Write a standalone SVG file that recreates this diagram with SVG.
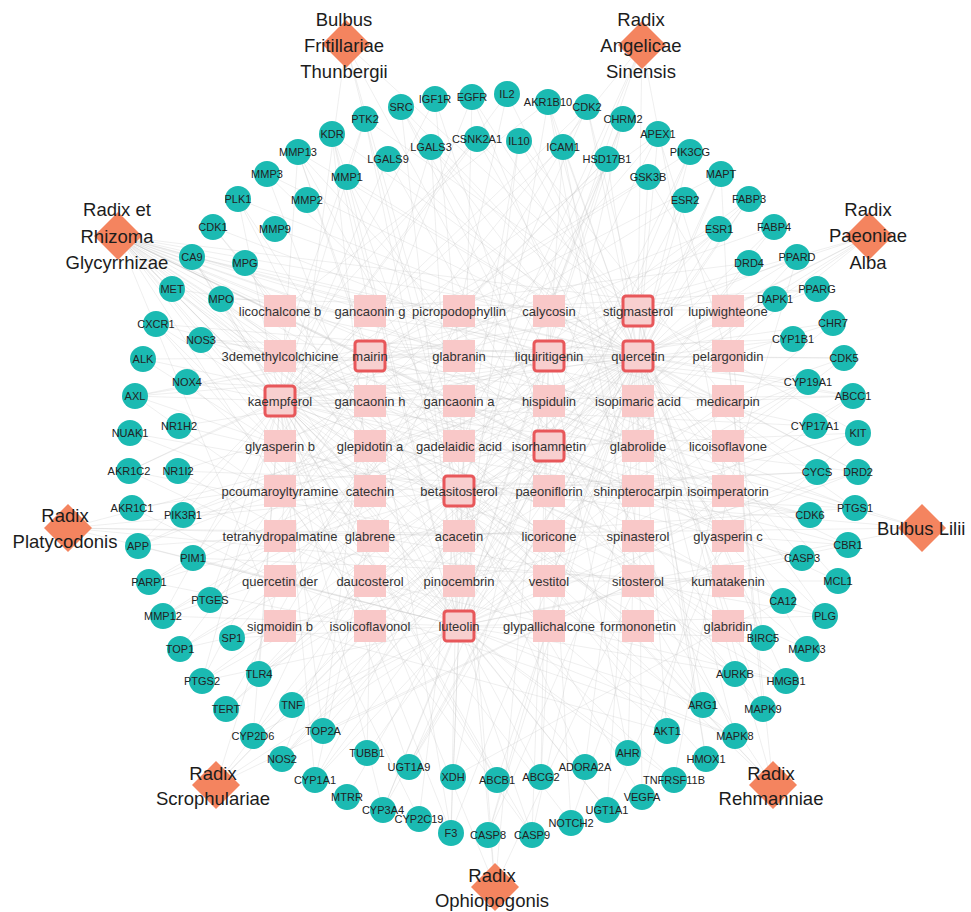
<svg xmlns="http://www.w3.org/2000/svg" width="971" height="912" viewBox="0 0 971 912">
<style>
.e{fill:none;stroke:#bdbdbd;stroke-width:0.55;stroke-opacity:0.45}
.t circle{fill:#1bbab2}
.t text{font-family:"Liberation Sans",Arial,sans-serif;font-size:11px;fill:#222;text-anchor:middle}
.c rect{fill:#f9c8c8}
.c.hl rect{fill:#f8cfcf;stroke:#e8575a;stroke-width:3}
.c text{font-family:"Liberation Sans",Arial,sans-serif;font-size:13px;fill:#333;text-anchor:middle}
.h polygon{fill:#f4845f}
.h text{font-family:"Liberation Sans",Arial,sans-serif;font-size:18.5px;fill:#1c1c1c;text-anchor:middle}
</style>
<rect width="971" height="912" fill="#ffffff"/>
<g id="connectors">
<path class="e" d="M118 236 280 311M118 236 370 311M118 236 549 311M118 236 728 311M118 236 459 356M118 236 549 356M118 236 638 356M118 236 280 401M118 236 370 401M118 236 459 401M118 236 728 401M118 236 280 446M118 236 370 446M118 236 549 446M118 236 638 446M118 236 728 446M118 236 370 491M118 236 638 491M118 236 728 491M118 236 370 536M118 236 549 536M118 236 728 536M118 236 549 581M118 236 728 581M118 236 280 626M118 236 370 626M118 236 549 626M118 236 638 626M118 236 728 626M118 236 459 626M118 236 459 581"/>
<path class="e" d="M346 44 638 311M346 44 459 491M346 44 638 581M346 44 280 536M346 44 459 446M642 45 638 311M642 45 459 491M642 45 549 311M642 45 459 446M642 45 728 491M642 45 280 491M869 236 549 491M869 236 280 401M869 236 459 491M869 236 370 491M869 236 638 356M869 236 638 311M869 236 370 581M68 528 459 626M68 528 638 536M68 528 459 536M68 528 459 491M68 528 638 581M68 528 549 401M922 528 280 356M922 528 459 491M922 528 280 536M922 528 638 581M922 528 370 356M216 785 638 581M216 785 459 536M216 785 459 626M216 785 280 581M216 785 370 581M216 785 638 356M495 887 370 581M495 887 638 581M495 887 459 491M495 887 549 311M495 887 459 401M773 785 638 311M773 785 459 491M773 785 638 581M773 785 459 446M773 785 370 356M773 785 728 356"/>
<path class="e" d="M638 356 332 134M638 356 401 107M638 356 472 97M638 356 507 94M638 356 548 102M638 356 587 107M638 356 658 134M638 356 690 152M638 356 721 174M638 356 749 199M638 356 797 257M638 356 817 289M638 356 844 358M638 356 853 396M638 356 858 472M638 356 855 508M638 356 838 581M638 356 825 616M638 356 807 649M638 356 786 681M638 356 763 709M638 356 735 736M638 356 706 759M638 356 642 797M638 356 607 810M638 356 532 835M638 356 488 835M638 356 451 833M638 356 383 810M638 356 315 780M638 356 282 759M638 356 253 736M638 356 226 709M638 356 202 681M638 356 180 649M638 356 163 616M638 356 149 582M638 356 138 546M638 356 135 396M638 356 143 359M638 356 172 289M638 356 192 257M638 356 238 199M638 356 267 174M638 356 298 152M638 356 347 177M638 356 431 147M638 356 519 141M638 356 563 147M638 356 607 159M638 356 648 177M638 356 685 200M638 356 719 229M638 356 775 299M638 356 808 382M638 356 817 472M638 356 802 558M638 356 763 638M638 356 703 705M638 356 667 731M638 356 585 767M638 356 497 780M638 356 409 767M638 356 323 731M638 356 259 674M638 356 210 600M638 356 183 515M638 356 179 426M638 356 201 340M638 356 275 229"/>
<path class="e" d="M280 401 365 119M280 401 435 99M280 401 507 94M280 401 587 107M280 401 658 134M280 401 721 174M280 401 774 227M280 401 833 323M280 401 853 396M280 401 858 472M280 401 848 545M280 401 825 616M280 401 786 681M280 401 735 736M280 401 674 780M280 401 607 810M280 401 532 835M280 401 451 833M280 401 383 810M280 401 315 780M280 401 253 736M280 401 202 681M280 401 163 616M280 401 138 546M280 401 129 471M280 401 135 396M280 401 156 324M280 401 192 257M280 401 238 199M280 401 298 152M280 401 388 159M280 401 477 139M280 401 563 147M280 401 648 177M280 401 719 229M280 401 793 339M280 401 815 426M280 401 810 515M280 401 783 601M280 401 735 674M280 401 667 731M280 401 585 767M280 401 497 780M280 401 409 767M280 401 323 731M280 401 259 674M280 401 210 600M280 401 183 515M280 401 187 382M280 401 221 299"/>
<path class="e" d="M459 626 332 134M459 626 401 107M459 626 472 97M459 626 548 102M459 626 623 119M459 626 690 152M459 626 749 199M459 626 797 257M459 626 833 323M459 626 853 396M459 626 858 472M459 626 848 545M459 626 825 616M459 626 786 681M459 626 735 736M459 626 674 780M459 626 607 810M459 626 532 835M459 626 451 833M459 626 383 810M459 626 315 780M459 626 253 736M459 626 202 681M459 626 163 616M459 626 138 546M459 626 129 471M459 626 135 396M459 626 156 324M459 626 192 257M459 626 238 199M459 626 298 152M459 626 347 177M459 626 431 147M459 626 519 141M459 626 607 159M459 626 685 200M459 626 749 263M459 626 808 382M459 626 817 472M459 626 802 558M459 626 763 638M459 626 703 705M459 626 628 753M459 626 541 777M459 626 453 777M459 626 367 753M459 626 292 705M459 626 232 638M459 626 193 558M459 626 178 471M459 626 187 382M459 626 245 263"/>
<path class="e" d="M638 311 587 107M638 311 365 119M638 311 135 396M638 311 163 616M638 311 282 759M638 311 488 835M638 311 706 759M638 311 858 433M638 311 817 289M638 311 477 139M638 311 183 515M638 311 735 674M459 491 332 134M459 491 519 141M459 491 749 199M459 491 844 358M459 491 855 508M459 491 807 649M459 491 642 797M459 491 419 819M459 491 226 709M459 491 149 582M459 491 130 433M459 491 172 289M459 491 607 159M459 491 817 472M459 491 585 767M459 491 292 705M459 491 179 426M549 446 435 99M549 446 623 119M549 446 774 227M549 446 858 433M549 446 838 581M549 446 763 709M549 446 571 823M549 446 347 797M549 446 180 649M549 446 132 508M549 446 143 359M549 446 267 174M549 446 388 159M549 446 775 299M549 446 810 515M549 446 703 705M549 446 409 767M549 446 201 340M549 356 401 107M549 356 658 134M549 356 797 257M549 356 853 396M549 356 825 616M549 356 735 736M549 356 532 835M549 356 315 780M549 356 138 546M549 356 156 324M549 356 213 227M549 356 563 147M549 356 719 229M549 356 808 382M549 356 783 601M549 356 628 753M549 356 453 777M549 356 259 674M549 356 178 471M370 356 298 152M370 356 472 97M370 356 690 152M370 356 844 358M370 356 786 681M370 356 451 833M370 356 202 681M370 356 129 471M370 356 431 147M370 356 793 339M370 356 667 731M370 356 323 731M370 356 210 600"/>
<path class="e" d="M280 311 213 227M280 311 548 102M280 311 815 426M370 311 332 134M370 311 749 263M370 311 193 558M459 311 507 94M459 311 817 289M459 311 282 759M459 311 607 159M549 311 623 119M549 311 858 472M549 311 135 396M549 311 541 777M728 311 721 174M728 311 648 177M728 311 221 299M728 311 763 638M280 356 156 324M280 356 365 119M280 356 477 139M459 356 435 99M459 356 855 508M459 356 232 638M728 356 833 323M728 356 658 134M728 356 763 709M370 401 238 199M370 401 802 558M370 401 180 649M459 401 587 107M459 401 149 582M459 401 735 674M549 401 401 107M549 401 848 545M549 401 383 810M549 401 187 382M638 401 774 227M638 401 201 340M638 401 628 753M728 401 853 396M728 401 519 141M728 401 292 705M280 446 143 359M280 446 685 200M280 446 571 823M370 446 267 174M370 446 810 515M370 446 226 709M459 446 298 152M459 446 719 229M459 446 451 833M638 446 548 102M638 446 808 382M638 446 259 674M728 446 844 358M728 446 388 159M728 446 642 797M280 491 130 433M280 491 607 159M280 491 532 835M370 491 332 134M370 491 817 472M370 491 253 736M370 491 183 515M549 491 690 152M549 491 802 558M549 491 163 616M549 491 347 177M638 491 858 433M638 491 472 97M638 491 488 835M728 491 797 257M728 491 178 471M728 491 674 780M280 536 138 546M280 536 749 199M280 536 419 819M370 536 192 257M370 536 825 616M370 536 315 780M459 536 623 119M459 536 855 508M459 536 202 681M459 536 129 471M549 536 775 299M549 536 409 767M549 536 135 396M638 536 858 472M638 536 232 638M638 536 563 147M728 536 848 545M728 536 431 147M728 536 607 810M280 581 132 508M280 581 735 736M280 581 658 134M370 581 156 324M370 581 786 681M370 581 497 780M459 581 365 119M459 581 838 581M459 581 282 759M549 581 706 759M549 581 172 289M549 581 721 174M638 581 763 709M638 581 323 731M638 581 548 102M728 581 807 649M728 581 193 558M728 581 477 139M280 626 180 649M280 626 587 107M280 626 667 731M370 626 149 582M370 626 808 382M370 626 367 753M549 626 541 777M549 626 213 227M549 626 853 396M638 626 703 705M638 626 221 299M638 626 571 823M638 626 858 433M728 626 783 601M728 626 298 152M728 626 453 777"/>
</g>
<g id="compounds">
<g id="c-licochalcone-b" class="c"><rect x="264" y="295" width="32" height="32"/><text x="280" y="315.5">licochalcone b</text></g>
<g id="c-gancaonin-g" class="c"><rect x="354" y="295" width="32" height="32"/><text x="370" y="315.5">gancaonin g</text></g>
<g id="c-picropodophyllin" class="c"><rect x="443" y="295" width="32" height="32"/><text x="459" y="315.5">picropodophyllin</text></g>
<g id="c-calycosin" class="c"><rect x="533" y="295" width="32" height="32"/><text x="549" y="315.5">calycosin</text></g>
<g id="c-stigmasterol" class="c hl"><rect x="623" y="296" width="30" height="30" rx="3"/><text x="638" y="315.5">stigmasterol</text></g>
<g id="c-lupiwighteone" class="c"><rect x="712" y="295" width="32" height="32"/><text x="728" y="315.5">lupiwighteone</text></g>
<g id="c-3demethylcolchicine" class="c"><rect x="264" y="340" width="32" height="32"/><text x="280" y="360.5">3demethylcolchicine</text></g>
<g id="c-mairin" class="c hl"><rect x="355" y="341" width="30" height="30" rx="3"/><text x="370" y="360.5">mairin</text></g>
<g id="c-glabranin" class="c"><rect x="443" y="340" width="32" height="32"/><text x="459" y="360.5">glabranin</text></g>
<g id="c-liquiritigenin" class="c hl"><rect x="534" y="341" width="30" height="30" rx="3"/><text x="549" y="360.5">liquiritigenin</text></g>
<g id="c-quercetin" class="c hl"><rect x="623" y="341" width="30" height="30" rx="3"/><text x="638" y="360.5">quercetin</text></g>
<g id="c-pelargonidin" class="c"><rect x="712" y="340" width="32" height="32"/><text x="728" y="360.5">pelargonidin</text></g>
<g id="c-kaempferol" class="c hl"><rect x="265" y="386" width="30" height="30" rx="3"/><text x="280" y="405.5">kaempferol</text></g>
<g id="c-gancaonin-h" class="c"><rect x="354" y="385" width="32" height="32"/><text x="370" y="405.5">gancaonin h</text></g>
<g id="c-gancaonin-a" class="c"><rect x="443" y="385" width="32" height="32"/><text x="459" y="405.5">gancaonin a</text></g>
<g id="c-hispidulin" class="c"><rect x="533" y="385" width="32" height="32"/><text x="549" y="405.5">hispidulin</text></g>
<g id="c-isopimaric-acid" class="c"><rect x="622" y="385" width="32" height="32"/><text x="638" y="405.5">isopimaric acid</text></g>
<g id="c-medicarpin" class="c"><rect x="712" y="385" width="32" height="32"/><text x="728" y="405.5">medicarpin</text></g>
<g id="c-glyasperin-b" class="c"><rect x="264" y="430" width="32" height="32"/><text x="280" y="450.5">glyasperin b</text></g>
<g id="c-glepidotin-a" class="c"><rect x="354" y="430" width="32" height="32"/><text x="370" y="450.5">glepidotin a</text></g>
<g id="c-gadelaidic-acid" class="c"><rect x="443" y="430" width="32" height="32"/><text x="459" y="450.5">gadelaidic acid</text></g>
<g id="c-isorhamnetin" class="c hl"><rect x="534" y="431" width="30" height="30" rx="3"/><text x="549" y="450.5">isorhamnetin</text></g>
<g id="c-glabrolide" class="c"><rect x="622" y="430" width="32" height="32"/><text x="638" y="450.5">glabrolide</text></g>
<g id="c-licoisoflavone" class="c"><rect x="712" y="430" width="32" height="32"/><text x="728" y="450.5">licoisoflavone</text></g>
<g id="c-pcoumaroyltyramine" class="c"><rect x="264" y="475" width="32" height="32"/><text x="280" y="495.5">pcoumaroyltyramine</text></g>
<g id="c-catechin" class="c"><rect x="354" y="475" width="32" height="32"/><text x="370" y="495.5">catechin</text></g>
<g id="c-betasitosterol" class="c hl"><rect x="444" y="476" width="30" height="30" rx="3"/><text x="459" y="495.5">betasitosterol</text></g>
<g id="c-paeoniflorin" class="c"><rect x="533" y="475" width="32" height="32"/><text x="549" y="495.5">paeoniflorin</text></g>
<g id="c-shinpterocarpin" class="c"><rect x="622" y="475" width="32" height="32"/><text x="638" y="495.5">shinpterocarpin</text></g>
<g id="c-isoimperatorin" class="c"><rect x="712" y="475" width="32" height="32"/><text x="728" y="495.5">isoimperatorin</text></g>
<g id="c-tetrahydropalmatine" class="c"><rect x="264" y="520" width="32" height="32"/><text x="280" y="540.5">tetrahydropalmatine</text></g>
<g id="c-glabrene" class="c"><rect x="357" y="520" width="32" height="32"/><text x="370" y="540.5">glabrene</text></g>
<g id="c-acacetin" class="c"><rect x="443" y="520" width="32" height="32"/><text x="459" y="540.5">acacetin</text></g>
<g id="c-licoricone" class="c"><rect x="533" y="520" width="32" height="32"/><text x="549" y="540.5">licoricone</text></g>
<g id="c-spinasterol" class="c"><rect x="622" y="520" width="32" height="32"/><text x="638" y="540.5">spinasterol</text></g>
<g id="c-glyasperin-c" class="c"><rect x="712" y="520" width="32" height="32"/><text x="728" y="540.5">glyasperin c</text></g>
<g id="c-quercetin-der" class="c"><rect x="264" y="565" width="32" height="32"/><text x="280" y="585.5">quercetin der</text></g>
<g id="c-daucosterol" class="c"><rect x="354" y="565" width="32" height="32"/><text x="370" y="585.5">daucosterol</text></g>
<g id="c-pinocembrin" class="c"><rect x="443" y="565" width="32" height="32"/><text x="459" y="585.5">pinocembrin</text></g>
<g id="c-vestitol" class="c"><rect x="533" y="565" width="32" height="32"/><text x="549" y="585.5">vestitol</text></g>
<g id="c-sitosterol" class="c"><rect x="622" y="565" width="32" height="32"/><text x="638" y="585.5">sitosterol</text></g>
<g id="c-kumatakenin" class="c"><rect x="712" y="565" width="32" height="32"/><text x="728" y="585.5">kumatakenin</text></g>
<g id="c-sigmoidin-b" class="c"><rect x="264" y="610" width="32" height="32"/><text x="280" y="630.5">sigmoidin b</text></g>
<g id="c-isolicoflavonol" class="c"><rect x="354" y="610" width="32" height="32"/><text x="370" y="630.5">isolicoflavonol</text></g>
<g id="c-luteolin" class="c hl"><rect x="444" y="611" width="30" height="30" rx="3"/><text x="459" y="630.5">luteolin</text></g>
<g id="c-glypallichalcone" class="c"><rect x="533" y="610" width="32" height="32"/><text x="549" y="630.5">glypallichalcone</text></g>
<g id="c-formononetin" class="c"><rect x="622" y="610" width="32" height="32"/><text x="638" y="630.5">formononetin</text></g>
<g id="c-glabridin" class="c"><rect x="712" y="610" width="32" height="32"/><text x="728" y="630.5">glabridin</text></g>
</g>
<g id="targets">
<g id="t-KDR" class="t"><circle cx="332" cy="134" r="13"/><text x="332" y="138">KDR</text></g>
<g id="t-PTK2" class="t"><circle cx="365" cy="119" r="13"/><text x="365" y="123">PTK2</text></g>
<g id="t-SRC" class="t"><circle cx="401" cy="107" r="13"/><text x="401" y="111">SRC</text></g>
<g id="t-IGF1R" class="t"><circle cx="435" cy="99" r="13"/><text x="435" y="103">IGF1R</text></g>
<g id="t-EGFR" class="t"><circle cx="472" cy="97" r="13"/><text x="472" y="101">EGFR</text></g>
<g id="t-IL2" class="t"><circle cx="507" cy="94" r="13"/><text x="507" y="98">IL2</text></g>
<g id="t-AKR1B10" class="t"><circle cx="548" cy="102" r="13"/><text x="548" y="106">AKR1B10</text></g>
<g id="t-CDK2" class="t"><circle cx="587" cy="107" r="13"/><text x="587" y="111">CDK2</text></g>
<g id="t-CHRM2" class="t"><circle cx="623" cy="119" r="13"/><text x="623" y="123">CHRM2</text></g>
<g id="t-APEX1" class="t"><circle cx="658" cy="134" r="13"/><text x="658" y="138">APEX1</text></g>
<g id="t-PIK3CG" class="t"><circle cx="690" cy="152" r="13"/><text x="690" y="156">PIK3CG</text></g>
<g id="t-MAPT" class="t"><circle cx="721" cy="174" r="13"/><text x="721" y="178">MAPT</text></g>
<g id="t-FABP3" class="t"><circle cx="749" cy="199" r="13"/><text x="749" y="203">FABP3</text></g>
<g id="t-FABP4" class="t"><circle cx="774" cy="227" r="13"/><text x="774" y="231">FABP4</text></g>
<g id="t-PPARD" class="t"><circle cx="797" cy="257" r="13"/><text x="797" y="261">PPARD</text></g>
<g id="t-PPARG" class="t"><circle cx="817" cy="289" r="13"/><text x="817" y="293">PPARG</text></g>
<g id="t-CHR7" class="t"><circle cx="833" cy="323" r="13"/><text x="833" y="327">CHR7</text></g>
<g id="t-CDK5" class="t"><circle cx="844" cy="358" r="13"/><text x="844" y="362">CDK5</text></g>
<g id="t-ABCC1" class="t"><circle cx="853" cy="396" r="13"/><text x="853" y="400">ABCC1</text></g>
<g id="t-KIT" class="t"><circle cx="858" cy="433" r="13"/><text x="858" y="437">KIT</text></g>
<g id="t-DRD2" class="t"><circle cx="858" cy="472" r="13"/><text x="858" y="476">DRD2</text></g>
<g id="t-PTGS1" class="t"><circle cx="855" cy="508" r="13"/><text x="855" y="512">PTGS1</text></g>
<g id="t-CBR1" class="t"><circle cx="848" cy="545" r="13"/><text x="848" y="549">CBR1</text></g>
<g id="t-MCL1" class="t"><circle cx="838" cy="581" r="13"/><text x="838" y="585">MCL1</text></g>
<g id="t-PLG" class="t"><circle cx="825" cy="616" r="13"/><text x="825" y="620">PLG</text></g>
<g id="t-MAPK3" class="t"><circle cx="807" cy="649" r="13"/><text x="807" y="653">MAPK3</text></g>
<g id="t-HMGB1" class="t"><circle cx="786" cy="681" r="13"/><text x="786" y="685">HMGB1</text></g>
<g id="t-MAPK9" class="t"><circle cx="763" cy="709" r="13"/><text x="763" y="713">MAPK9</text></g>
<g id="t-MAPK8" class="t"><circle cx="735" cy="736" r="13"/><text x="735" y="740">MAPK8</text></g>
<g id="t-HMOX1" class="t"><circle cx="706" cy="759" r="13"/><text x="706" y="763">HMOX1</text></g>
<g id="t-TNFRSF11B" class="t"><circle cx="674" cy="780" r="13"/><text x="674" y="784">TNFRSF11B</text></g>
<g id="t-VEGFA" class="t"><circle cx="642" cy="797" r="13"/><text x="642" y="801">VEGFA</text></g>
<g id="t-UGT1A1" class="t"><circle cx="607" cy="810" r="13"/><text x="607" y="814">UGT1A1</text></g>
<g id="t-NOTCH2" class="t"><circle cx="571" cy="823" r="13"/><text x="571" y="827">NOTCH2</text></g>
<g id="t-CASP9" class="t"><circle cx="532" cy="835" r="13"/><text x="532" y="839">CASP9</text></g>
<g id="t-CASP8" class="t"><circle cx="488" cy="835" r="13"/><text x="488" y="839">CASP8</text></g>
<g id="t-F3" class="t"><circle cx="451" cy="833" r="13"/><text x="451" y="837">F3</text></g>
<g id="t-CYP2C19" class="t"><circle cx="419" cy="819" r="13"/><text x="419" y="823">CYP2C19</text></g>
<g id="t-CYP3A4" class="t"><circle cx="383" cy="810" r="13"/><text x="383" y="814">CYP3A4</text></g>
<g id="t-MTRR" class="t"><circle cx="347" cy="797" r="13"/><text x="347" y="801">MTRR</text></g>
<g id="t-CYP1A1" class="t"><circle cx="315" cy="780" r="13"/><text x="315" y="784">CYP1A1</text></g>
<g id="t-NOS2" class="t"><circle cx="282" cy="759" r="13"/><text x="282" y="763">NOS2</text></g>
<g id="t-CYP2D6" class="t"><circle cx="253" cy="736" r="13"/><text x="253" y="740">CYP2D6</text></g>
<g id="t-TERT" class="t"><circle cx="226" cy="709" r="13"/><text x="226" y="713">TERT</text></g>
<g id="t-PTGS2" class="t"><circle cx="202" cy="681" r="13"/><text x="202" y="685">PTGS2</text></g>
<g id="t-TOP1" class="t"><circle cx="180" cy="649" r="13"/><text x="180" y="653">TOP1</text></g>
<g id="t-MMP12" class="t"><circle cx="163" cy="616" r="13"/><text x="163" y="620">MMP12</text></g>
<g id="t-PARP1" class="t"><circle cx="149" cy="582" r="13"/><text x="149" y="586">PARP1</text></g>
<g id="t-APP" class="t"><circle cx="138" cy="546" r="13"/><text x="138" y="550">APP</text></g>
<g id="t-AKR1C1" class="t"><circle cx="132" cy="508" r="13"/><text x="132" y="512">AKR1C1</text></g>
<g id="t-AKR1C2" class="t"><circle cx="129" cy="471" r="13"/><text x="129" y="475">AKR1C2</text></g>
<g id="t-NUAK1" class="t"><circle cx="130" cy="433" r="13"/><text x="130" y="437">NUAK1</text></g>
<g id="t-AXL" class="t"><circle cx="135" cy="396" r="13"/><text x="135" y="400">AXL</text></g>
<g id="t-ALK" class="t"><circle cx="143" cy="359" r="13"/><text x="143" y="363">ALK</text></g>
<g id="t-CXCR1" class="t"><circle cx="156" cy="324" r="13"/><text x="156" y="328">CXCR1</text></g>
<g id="t-MET" class="t"><circle cx="172" cy="289" r="13"/><text x="172" y="293">MET</text></g>
<g id="t-CA9" class="t"><circle cx="192" cy="257" r="13"/><text x="192" y="261">CA9</text></g>
<g id="t-CDK1" class="t"><circle cx="213" cy="227" r="13"/><text x="213" y="231">CDK1</text></g>
<g id="t-PLK1" class="t"><circle cx="238" cy="199" r="13"/><text x="238" y="203">PLK1</text></g>
<g id="t-MMP3" class="t"><circle cx="267" cy="174" r="13"/><text x="267" y="178">MMP3</text></g>
<g id="t-MMP13" class="t"><circle cx="298" cy="152" r="13"/><text x="298" y="156">MMP13</text></g>
<g id="t-MMP1" class="t"><circle cx="347" cy="177" r="13"/><text x="347" y="181">MMP1</text></g>
<g id="t-LGALS9" class="t"><circle cx="388" cy="159" r="13"/><text x="388" y="163">LGALS9</text></g>
<g id="t-LGALS3" class="t"><circle cx="431" cy="147" r="13"/><text x="431" y="151">LGALS3</text></g>
<g id="t-CSNK2A1" class="t"><circle cx="477" cy="139" r="13"/><text x="477" y="143">CSNK2A1</text></g>
<g id="t-IL10" class="t"><circle cx="519" cy="141" r="13"/><text x="519" y="145">IL10</text></g>
<g id="t-ICAM1" class="t"><circle cx="563" cy="147" r="13"/><text x="563" y="151">ICAM1</text></g>
<g id="t-HSD17B1" class="t"><circle cx="607" cy="159" r="13"/><text x="607" y="163">HSD17B1</text></g>
<g id="t-GSK3B" class="t"><circle cx="648" cy="177" r="13"/><text x="648" y="181">GSK3B</text></g>
<g id="t-ESR2" class="t"><circle cx="685" cy="200" r="13"/><text x="685" y="204">ESR2</text></g>
<g id="t-ESR1" class="t"><circle cx="719" cy="229" r="13"/><text x="719" y="233">ESR1</text></g>
<g id="t-DRD4" class="t"><circle cx="749" cy="263" r="13"/><text x="749" y="267">DRD4</text></g>
<g id="t-DAPK1" class="t"><circle cx="775" cy="299" r="13"/><text x="775" y="303">DAPK1</text></g>
<g id="t-CYP1B1" class="t"><circle cx="793" cy="339" r="13"/><text x="793" y="343">CYP1B1</text></g>
<g id="t-CYP19A1" class="t"><circle cx="808" cy="382" r="13"/><text x="808" y="386">CYP19A1</text></g>
<g id="t-CYP17A1" class="t"><circle cx="815" cy="426" r="13"/><text x="815" y="430">CYP17A1</text></g>
<g id="t-CYCS" class="t"><circle cx="817" cy="472" r="13"/><text x="817" y="476">CYCS</text></g>
<g id="t-CDK6" class="t"><circle cx="810" cy="515" r="13"/><text x="810" y="519">CDK6</text></g>
<g id="t-CASP3" class="t"><circle cx="802" cy="558" r="13"/><text x="802" y="562">CASP3</text></g>
<g id="t-CA12" class="t"><circle cx="783" cy="601" r="13"/><text x="783" y="605">CA12</text></g>
<g id="t-BIRC5" class="t"><circle cx="763" cy="638" r="13"/><text x="763" y="642">BIRC5</text></g>
<g id="t-AURKB" class="t"><circle cx="735" cy="674" r="13"/><text x="735" y="678">AURKB</text></g>
<g id="t-ARG1" class="t"><circle cx="703" cy="705" r="13"/><text x="703" y="709">ARG1</text></g>
<g id="t-AKT1" class="t"><circle cx="667" cy="731" r="13"/><text x="667" y="735">AKT1</text></g>
<g id="t-AHR" class="t"><circle cx="628" cy="753" r="13"/><text x="628" y="757">AHR</text></g>
<g id="t-ADORA2A" class="t"><circle cx="585" cy="767" r="13"/><text x="585" y="771">ADORA2A</text></g>
<g id="t-ABCG2" class="t"><circle cx="541" cy="777" r="13"/><text x="541" y="781">ABCG2</text></g>
<g id="t-ABCB1" class="t"><circle cx="497" cy="780" r="13"/><text x="497" y="784">ABCB1</text></g>
<g id="t-XDH" class="t"><circle cx="453" cy="777" r="13"/><text x="453" y="781">XDH</text></g>
<g id="t-UGT1A9" class="t"><circle cx="409" cy="767" r="13"/><text x="409" y="771">UGT1A9</text></g>
<g id="t-TUBB1" class="t"><circle cx="367" cy="753" r="13"/><text x="367" y="757">TUBB1</text></g>
<g id="t-TOP2A" class="t"><circle cx="323" cy="731" r="13"/><text x="323" y="735">TOP2A</text></g>
<g id="t-TNF" class="t"><circle cx="292" cy="705" r="13"/><text x="292" y="709">TNF</text></g>
<g id="t-TLR4" class="t"><circle cx="259" cy="674" r="13"/><text x="259" y="678">TLR4</text></g>
<g id="t-SP1" class="t"><circle cx="232" cy="638" r="13"/><text x="232" y="642">SP1</text></g>
<g id="t-PTGES" class="t"><circle cx="210" cy="600" r="13"/><text x="210" y="604">PTGES</text></g>
<g id="t-PIM1" class="t"><circle cx="193" cy="558" r="13"/><text x="193" y="562">PIM1</text></g>
<g id="t-PIK3R1" class="t"><circle cx="183" cy="515" r="13"/><text x="183" y="519">PIK3R1</text></g>
<g id="t-NR1I2" class="t"><circle cx="178" cy="471" r="13"/><text x="178" y="475">NR1I2</text></g>
<g id="t-NR1H2" class="t"><circle cx="179" cy="426" r="13"/><text x="179" y="430">NR1H2</text></g>
<g id="t-NOX4" class="t"><circle cx="187" cy="382" r="13"/><text x="187" y="386">NOX4</text></g>
<g id="t-NOS3" class="t"><circle cx="201" cy="340" r="13"/><text x="201" y="344">NOS3</text></g>
<g id="t-MPO" class="t"><circle cx="221" cy="299" r="13"/><text x="221" y="303">MPO</text></g>
<g id="t-MPG" class="t"><circle cx="245" cy="263" r="13"/><text x="245" y="267">MPG</text></g>
<g id="t-MMP9" class="t"><circle cx="275" cy="229" r="13"/><text x="275" y="233">MMP9</text></g>
<g id="t-MMP2" class="t"><circle cx="307" cy="200" r="13"/><text x="307" y="204">MMP2</text></g>
</g>
<g id="herbs">
<g id="h-fritillariae" class="h"><polygon points="346,20 370,44 346,68 322,44"/><text x="344" y="25.5">Bulbus</text><text x="344" y="51.5">Fritillariae</text><text x="344" y="77.5">Thunbergii</text></g>
<g id="h-angelicae" class="h"><polygon points="642,21 666,45 642,69 618,45"/><text x="641" y="25.5">Radix</text><text x="641" y="51.5">Angelicae</text><text x="641" y="77.5">Sinensis</text></g>
<g id="h-glycyrrhizae" class="h"><polygon points="118,212 142,236 118,260 94,236"/><text x="117" y="215.5">Radix et</text><text x="117" y="242.5">Rhizoma</text><text x="117" y="268.5">Glycyrrhizae</text></g>
<g id="h-paeoniae" class="h"><polygon points="869,212 893,236 869,260 845,236"/><text x="868" y="215.5">Radix</text><text x="868" y="241.5">Paeoniae</text><text x="868" y="268.5">Alba</text></g>
<g id="h-platycodonis" class="h"><polygon points="68,504 92,528 68,552 44,528"/><text x="65" y="521.5">Radix</text><text x="65" y="547.5">Platycodonis</text></g>
<g id="h-lilii" class="h"><polygon points="922,504 946,528 922,552 898,528"/><text x="877" y="534.5" style="text-anchor:start">Bulbus Lilii</text></g>
<g id="h-scrophulariae" class="h"><polygon points="216,761 240,785 216,809 192,785"/><text x="213" y="779.5">Radix</text><text x="213" y="804.5">Scrophulariae</text></g>
<g id="h-ophiopogonis" class="h"><polygon points="495,863 519,887 495,911 471,887"/><text x="492" y="881.5">Radix</text><text x="492" y="906.5">Ophiopogonis</text></g>
<g id="h-rehmanniae" class="h"><polygon points="773,761 797,785 773,809 749,785"/><text x="771" y="779.5">Radix</text><text x="771" y="804.5">Rehmanniae</text></g>
</g>
</svg>
